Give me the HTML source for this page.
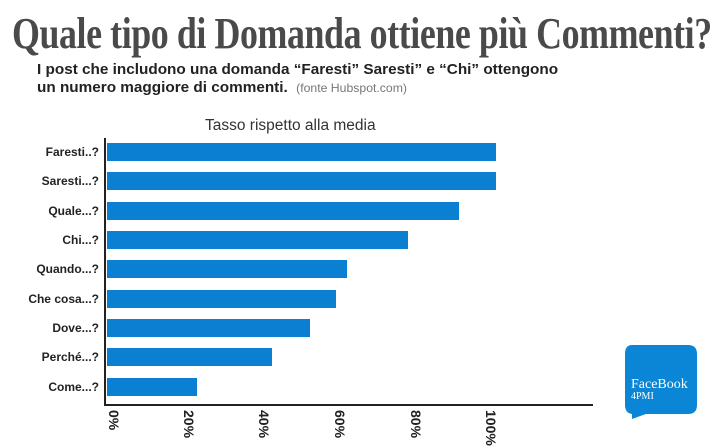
<!DOCTYPE html>
<html><head><meta charset="utf-8"><style>
body{margin:0;width:713px;height:440px;background:#fff;overflow:hidden;position:relative;font-family:"Liberation Sans",sans-serif}
.t{position:absolute;left:12px;top:8px;font-family:"Liberation Serif",serif;font-weight:bold;font-size:44px;color:#4a4a4a;white-space:nowrap;transform-origin:0 0;transform:scaleX(0.815);letter-spacing:-0.5px}
.s{position:absolute;left:37px;font-weight:bold;font-size:15px;color:#222;white-space:nowrap;transform-origin:0 0;transform:scaleX(1.02)}
.lab{position:absolute;right:614px;font-weight:bold;font-size:12px;color:#222;white-space:nowrap}
.bar{position:absolute;left:107px;height:18px;background:#0b80d2}
.tk{position:absolute;top:410px;font-weight:bold;font-size:14px;color:#222;transform-origin:0 0;transform:rotate(90deg);white-space:nowrap}
</style></head><body>
<div class="t">Quale tipo di Domanda ottiene più Commenti?</div>
<div class="s" style="top:61px">I post che includono una domanda “Faresti” Saresti” e “Chi” ottengono</div>
<div class="s" style="top:79px">un numero maggiore di commenti. <span style="font-size:12px;color:#777;font-weight:normal;margin-left:4px">(fonte Hubspot.com)</span></div>
<div style="position:absolute;left:205px;top:117px;font-size:15.5px;color:#333">Tasso rispetto alla media</div>
<div style="position:absolute;left:104px;top:138px;width:2px;height:268px;background:#222"></div>
<div style="position:absolute;left:104px;top:404px;width:489px;height:2px;background:#222"></div>
<div class="bar" style="top:143px;width:389px"></div><div class="lab" style="top:145px">Faresti..?</div>
<div class="bar" style="top:172px;width:389px"></div><div class="lab" style="top:174px">Saresti...?</div>
<div class="bar" style="top:202px;width:352px"></div><div class="lab" style="top:204px">Quale...?</div>
<div class="bar" style="top:231px;width:301px"></div><div class="lab" style="top:233px">Chi...?</div>
<div class="bar" style="top:260px;width:240px"></div><div class="lab" style="top:262px">Quando...?</div>
<div class="bar" style="top:290px;width:229px"></div><div class="lab" style="top:292px">Che cosa...?</div>
<div class="bar" style="top:319px;width:203px"></div><div class="lab" style="top:321px">Dove...?</div>
<div class="bar" style="top:348px;width:165px"></div><div class="lab" style="top:350px">Perché...?</div>
<div class="bar" style="top:378px;width:90px"></div><div class="lab" style="top:380px">Come...?</div>
<div class="tk" style="left:122px">0%</div>
<div class="tk" style="left:197px">20%</div>
<div class="tk" style="left:272px">40%</div>
<div class="tk" style="left:348px">60%</div>
<div class="tk" style="left:424px">80%</div>
<div class="tk" style="left:499px">100%</div>
<svg style="position:absolute;left:624px;top:343px" width="76" height="78">
<path d="M8 2H64Q73 2 73 11V62Q73 71 64 71H22L8 76V71Q1 70 1 62V11Q1 2 8 2Z" fill="#0b86d6"/>
<text x="7" y="45" font-family="Liberation Serif,serif" font-size="14" fill="#fff">FaceBook</text>
<text x="7" y="56" font-family="Liberation Serif,serif" font-size="10" fill="#fff">4PMI</text>
</svg>
</body></html>
